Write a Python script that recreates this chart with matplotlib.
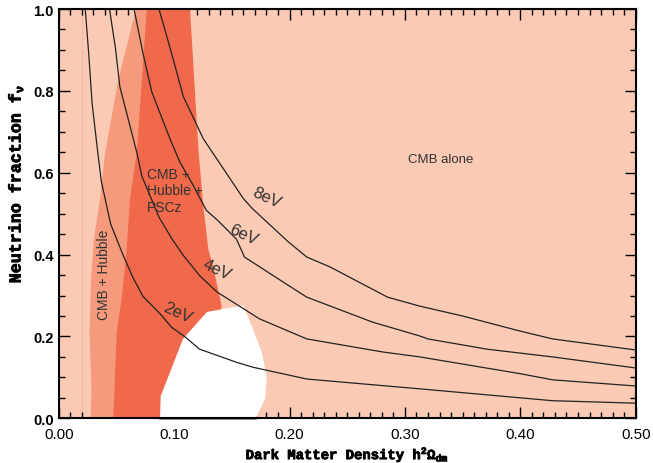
import matplotlib
matplotlib.use('Agg')
import matplotlib.pyplot as plt
import matplotlib.patheffects as pe
from matplotlib.ticker import MultipleLocator

# colours of the allowed regions
c_light = '#FBCAB4'
c_mid = '#F59A7D'
c_dark = '#F0694A'

# CMB + Hubble region (left edge, bottom -> top); right part hidden under PSCz
hub_x = [0.0277, 0.0284, 0.0267, 0.028, 0.0306, 0.0358, 0.0401, 0.0514, 0.067, 0.080, 0.060]
hub_y = [0.0, 0.072, 0.211, 0.341, 0.439, 0.536, 0.646, 0.824, 1.0, 1.0, 0.0]

# CMB + Hubble + PSCz region
psc_x = [0.0473, 0.0503, 0.0546, 0.0589, 0.0618, 0.0679, 0.0763,
         0.1138, 0.121, 0.1253, 0.1296, 0.1337, 0.1412, 0.1224]
psc_y = [0.0, 0.211, 0.292, 0.414, 0.536, 0.658, 1.0,
         1.0, 0.658, 0.519, 0.414, 0.372, 0.275, 0.0]

# excluded (white) hole
hole_x = [0.0878, 0.0884, 0.1077, 0.1285, 0.1528, 0.160, 0.1672, 0.1759,
          0.1802, 0.1788, 0.1716, 0.170]
hole_y = [0.0, 0.0545, 0.194, 0.260, 0.272, 0.277, 0.226, 0.162,
          0.103, 0.0472, 0.0056, 0.0]

# neutrino mass contours
m2_x = [0.023, 0.026, 0.029, 0.034, 0.037, 0.045, 0.055, 0.064, 0.073, 0.088,
        0.098, 0.110, 0.122, 0.131, 0.154, 0.168, 0.215, 0.313, 0.428, 0.500]
m2_y = [1.0, 0.891, 0.768, 0.646, 0.578, 0.475, 0.404, 0.346, 0.298, 0.255,
        0.222, 0.198, 0.169, 0.160, 0.137, 0.125, 0.096, 0.072, 0.043, 0.037]
m4_x = [0.044, 0.049, 0.053, 0.068, 0.072, 0.087, 0.098, 0.108, 0.122, 0.128,
        0.137, 0.174, 0.215, 0.281, 0.313, 0.400, 0.428, 0.500]
m4_y = [1.0, 0.908, 0.810, 0.646, 0.592, 0.491, 0.439, 0.398, 0.349, 0.333,
        0.309, 0.243, 0.194, 0.162, 0.150, 0.109, 0.094, 0.079]
m6_x = [0.0653, 0.0731, 0.0806, 0.0964, 0.105, 0.1166, 0.128, 0.138, 0.154,
        0.161, 0.200, 0.215, 0.272, 0.313, 0.320, 0.371, 0.428, 0.500]
m6_y = [1.0, 0.891, 0.798, 0.683, 0.626, 0.569, 0.508, 0.483, 0.438,
        0.394, 0.323, 0.296, 0.235, 0.201, 0.194, 0.169, 0.150, 0.123]
m8_x = [0.0869, 0.0979, 0.108, 0.1253, 0.160, 0.168, 0.199, 0.215, 0.235,
        0.285, 0.313, 0.350, 0.400, 0.428, 0.500]
m8_y = [1.0, 0.891, 0.786, 0.683, 0.537, 0.512, 0.431, 0.394, 0.370,
        0.296, 0.274, 0.250, 0.213, 0.194, 0.167]

mass_labels = ['2eV', '4eV', '6eV', '8eV']
label_x = [0.1028, 0.137, 0.160, 0.1803]
label_y = [0.259, 0.365, 0.451, 0.540]

plt.rcParams['mathtext.fontset'] = 'custom'
plt.rcParams['mathtext.rm'] = 'Liberation Mono:bold'
plt.rcParams['mathtext.bf'] = 'Liberation Mono:bold'
plt.rcParams['mathtext.it'] = 'Liberation Mono:bold'

fig = plt.figure(figsize=(6.53, 4.64), dpi=100)
ax = fig.add_axes([0.0899, 0.0963, 0.8836, 0.8821])
ax.set_facecolor(c_light)

ax.axvline(0.0199, color='#F4B8A2', lw=0.8, zorder=1)
ax.fill(hub_x, hub_y, color=c_mid, lw=0, zorder=2)
ax.fill(psc_x, psc_y, color=c_dark, lw=0, zorder=3)
ax.fill(hole_x, hole_y, color='white', lw=0, zorder=4)

for xs, ys in [(m2_x, m2_y), (m4_x, m4_y), (m6_x, m6_y), (m8_x, m8_y)]:
    ax.plot(xs, ys, color='#222222', lw=0.9, zorder=5)

for t, x, y in zip(mass_labels, label_x, label_y):
    ax.text(x, y, t, rotation=-25, ha='center', va='center', fontsize=12,
            family='Liberation Sans', color='#333333', zorder=6)

ax.text(0.331, 0.634, 'CMB alone', ha='center', va='center', fontsize=9.5,
        family='Liberation Sans', color='#333333', zorder=6)
ax.text(0.0763, 0.614, 'CMB +\nHubble +\nPSCz', ha='left', va='top', fontsize=10,
        family='Liberation Sans', color='#333333', linespacing=1.22, zorder=6)
ax.text(0.039, 0.353, 'CMB + Hubble', rotation=90, ha='center', va='center',
        fontsize=10, family='Liberation Sans', color='#333333', zorder=6)

ax.plot([0.0878, 0.170], [0, 0], color='#888888', lw=2, zorder=7, clip_on=False)

ax.set_xlim(0, 0.5)
ax.set_ylim(0, 1.0)
ax.xaxis.set_major_locator(MultipleLocator(0.1))
ax.xaxis.set_minor_locator(MultipleLocator(0.01))
ax.yaxis.set_major_locator(MultipleLocator(0.2))
ax.yaxis.set_minor_locator(MultipleLocator(0.05))
ax.tick_params(which='both', direction='in', top=True, right=True, width=1, color='black')
ax.tick_params(which='major', length=8)
ax.tick_params(which='minor', length=4)
ax.set_xticks([0, 0.1, 0.2, 0.3, 0.4, 0.5])
ax.set_xticklabels(['0.00', '0.10', '0.20', '0.30', '0.40', '0.50'],
                   family='Liberation Sans', fontsize=11)
ax.set_yticks([0, 0.2, 0.4, 0.6, 0.8, 1.0])
ax.set_yticklabels(['0.0', '0.2', '0.4', '0.6', '0.8', '1.0'],
                   family='Liberation Sans', fontsize=10.5, fontweight='bold')
ax.tick_params(axis='x', pad=6)
for s in ax.spines.values():
    s.set_linewidth(1.5)
    s.set_zorder(8)

thick = [pe.withStroke(linewidth=0.6, foreground='black')]
xl = ax.set_xlabel(r'Dark Matter Density h$^{\mathbf{2}}\mathbf{\Omega_{dm}}$',
                   family='Liberation Mono', fontweight='bold', fontsize=10)
xl.set_path_effects(thick)
ax.xaxis.set_label_coords(0.5, -0.064)
yl = ax.set_ylabel(r'Neutrino fraction f$_{\nu}$', family='Liberation Mono',
                   fontweight='bold', fontsize=12)
yl.set_path_effects(thick)
ax.yaxis.set_label_coords(-0.058, 0.572)

plt.savefig('out.png', dpi=100)
